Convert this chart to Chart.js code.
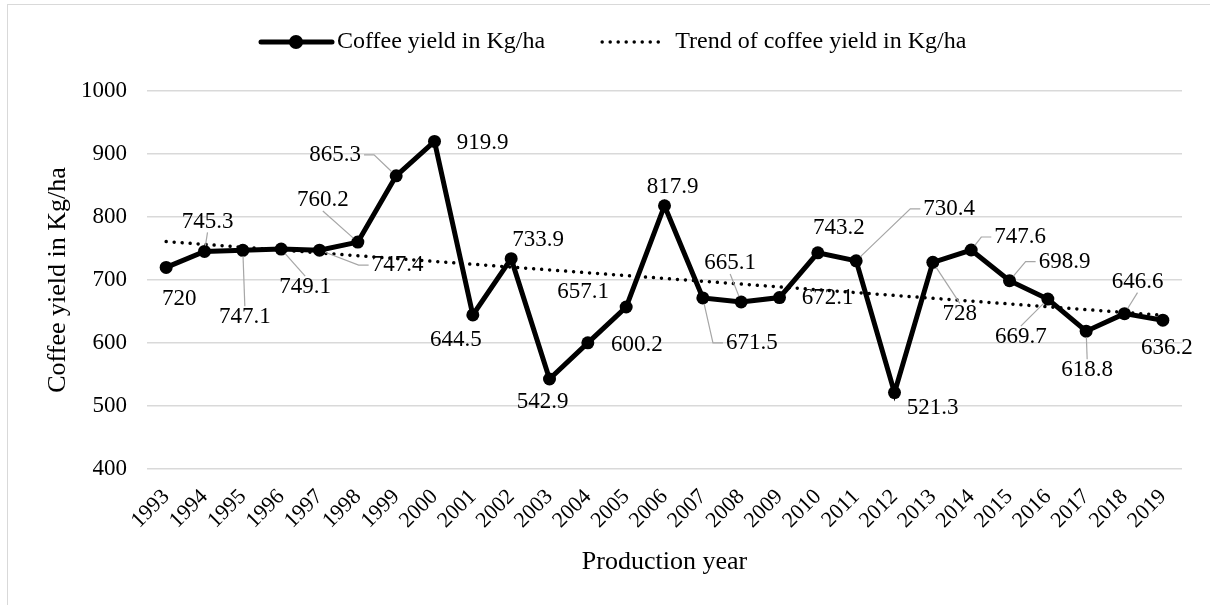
<!DOCTYPE html>
<html>
<head>
<meta charset="utf-8">
<script src="https://cdn.jsdelivr.net/npm/chart.js@4"></script>
<style>
  html, body { margin: 0; padding: 0; background: #fff; }
  #wrap { position: relative; width: 1210px; height: 605px; }
  #frame { position: absolute; left: 7px; top: 4px; width: 1300px; height: 700px; border: 1px solid #d9d9d9; box-sizing: border-box; }
  canvas { position: absolute; left: 0; top: 0; }
</style>
</head>
<body>
<div id="wrap">
  <div id="frame"></div>
  <canvas id="chart" width="1210" height="605"></canvas>
</div>
<script>
// ── Data ───────────────────────────────────────────────────────
const years = ["1993", "1994", "1995", "1996", "1997", "1998", "1999", "2000", "2001", "2002",
  "2003", "2004", "2005", "2006", "2007", "2008", "2009", "2010", "2011", "2012",
  "2013", "2014", "2015", "2016", "2017", "2018", "2019"];
const yieldKgHa = [720, 745.3, 747.1, 749.1, 747.4, 760.2, 865.3, 919.9, 644.5, 733.9,
  542.9, 600.2, 657.1, 817.9, 671.5, 665.1, 672.1, 743.2, 730.4, 521.3,
  728, 747.6, 698.9, 669.7, 618.8, 646.6, 636.2];
// linear trend, read at both ends of the period (straight line between them)
const trendKgHa = [761, null, null, null, null, null, null, null, null, null,
  null, null, null, null, null, null, null, null, null, null,
  null, null, null, null, null, null, 644];
const yTicks = { min: 400, max: 1000, step: 100 };

const SERIF = "'Liberation Serif', 'Times New Roman', serif";

// data label placement (px from the point) and leader style: v = top/bottom, h = side
const labelPlacement = [
  [13, 32, null], [3, -30, "v"], [2, 67, "v"], [24, 38, "v"], [78, 15, "h"],
  [-35, -42, "v"], [-61, -21, "h"], [48, 1, null], [-17, 25, null], [27, -19, null],
  [-7, 23, null], [49, 2, null], [-43, -15, null], [8, -19, null], [49, 45, "h"],
  [-11, -39, "v"], [48, 0, null], [21, -25, null], [93, -52, "h"], [38, 15, null],
  [27, 52, "v"], [49, -13, "h"], [55, -19, "h"], [-27, 38, "v"], [1, 39, "v"],
  [13, -32, "v"], [4, 28, null]
];

const dataLabels = {
  id: "dataLabels",
  afterDatasetsDraw(chart) {
    const ctx = chart.ctx;
    const meta = chart.getDatasetMeta(0);
    ctx.save();
    ctx.font = "23px " + SERIF;
    ctx.textAlign = "center";
    ctx.textBaseline = "middle";
    meta.data.forEach((pt, i) => {
      const [dx, dy, leader] = labelPlacement[i];
      const text = String(yieldKgHa[i]);
      const lx = pt.x + dx, ly = pt.y + dy;
      const w = ctx.measureText(text).width, h = 20;
      if (leader) {
        let ax, ay, sx, sy;
        if (leader === "v") {
          ax = lx; ay = dy > 0 ? ly - h / 2 - 1 : ly + h / 2 + 1;
          sx = ax; sy = ay;
        } else {
          ax = dx > 0 ? lx - w / 2 - 3 : lx + w / 2 + 3; ay = ly;
          sx = dx > 0 ? ax - 10 : ax + 10; sy = ay;
        }
        const vx = pt.x - sx, vy = pt.y - sy;
        const len = Math.hypot(vx, vy) || 1;
        const ex = pt.x - vx / len * 6, ey = pt.y - vy / len * 6;
        ctx.strokeStyle = "#a6a6a6";
        ctx.lineWidth = 1.2;
        ctx.beginPath();
        ctx.moveTo(ax, ay);
        ctx.lineTo(sx, sy);
        ctx.lineTo(ex, ey);
        ctx.stroke();
      }
      ctx.fillStyle = "#000";
      ctx.fillText(text, lx, ly);
    });
    ctx.restore();
  }
};

// Excel-like legend: line with marker, dotted trend
const topLegend = {
  id: "topLegend",
  afterDraw(chart) {
    const ctx = chart.ctx;
    const y = 42;
    ctx.save();
    ctx.font = "24px " + SERIF;
    ctx.textBaseline = "middle";
    ctx.fillStyle = "#000";
    let x = 261;
    ctx.strokeStyle = "#000";
    ctx.lineWidth = 5;
    ctx.lineCap = "round";
    ctx.beginPath(); ctx.moveTo(x, y); ctx.lineTo(x + 71, y); ctx.stroke();
    ctx.beginPath(); ctx.arc(x + 35, y, 7, 0, Math.PI * 2); ctx.fill();
    x += 76;
    const t1 = chart.data.datasets[0].label;
    ctx.fillText(t1, x, y);
    x += ctx.measureText(t1).width + 55;
    ctx.lineWidth = 3.5;
    ctx.setLineDash([0.01, 8]);
    ctx.beginPath(); ctx.moveTo(x + 2, y); ctx.lineTo(x + 62, y); ctx.stroke();
    ctx.setLineDash([]);
    x += 75;
    ctx.fillText(chart.data.datasets[1].label, x, y);
    ctx.restore();
  }
};

new Chart(document.getElementById("chart"), {
  type: "line",
  data: {
    labels: years,
    datasets: [
      {
        label: "Coffee yield in Kg/ha",
        data: yieldKgHa,
        borderColor: "#000",
        backgroundColor: "#000",
        borderWidth: 5,
        pointRadius: 6.5,
        pointBackgroundColor: "#000",
        pointBorderWidth: 0,
        tension: 0,
        order: 1
      },
      {
        label: "Trend of coffee yield in Kg/ha",
        data: trendKgHa,
        spanGaps: true,
        borderColor: "#000",
        borderWidth: 3.5,
        borderDash: [0.01, 8],
        borderCapStyle: "round",
        pointRadius: 0,
        order: 2
      }
    ]
  },
  options: {
    responsive: false,
    animation: false,
    events: [],
    layout: { padding: { left: 39, right: 28, top: 91, bottom: 23 } },
    plugins: { legend: { display: false }, tooltip: { enabled: false } },
    scales: {
      x: {
        offset: true,
        grid: { display: false, drawTicks: false },
        border: { display: false },
        ticks: {
          color: "#000",
          font: { family: SERIF, size: 22 },
          maxRotation: 45, minRotation: 45,
          padding: 15,
          autoSkip: false
        },
        title: {
          display: true, text: "Production year", color: "#000",
          font: { family: SERIF, size: 26 }, padding: { top: 4, bottom: 4 }
        },
        afterFit(s) { s.height = 113; }
      },
      y: {
        min: yTicks.min, max: yTicks.max,
        grid: { color: "#d9d9d9", lineWidth: 1.5, drawTicks: false },
        border: { display: false },
        ticks: {
          stepSize: yTicks.step, color: "#000",
          font: { family: SERIF, size: 23 }, padding: 20,
          callback: (v) => String(v)
        },
        title: {
          display: true, text: "Coffee yield in Kg/ha", color: "#000",
          font: { family: SERIF, size: 26 }, padding: { top: 4, bottom: 4 }
        },
        afterFit(s) { s.width = 108; }
      }
    }
  },
  plugins: [dataLabels, topLegend]
});
</script>
</body>
</html>
